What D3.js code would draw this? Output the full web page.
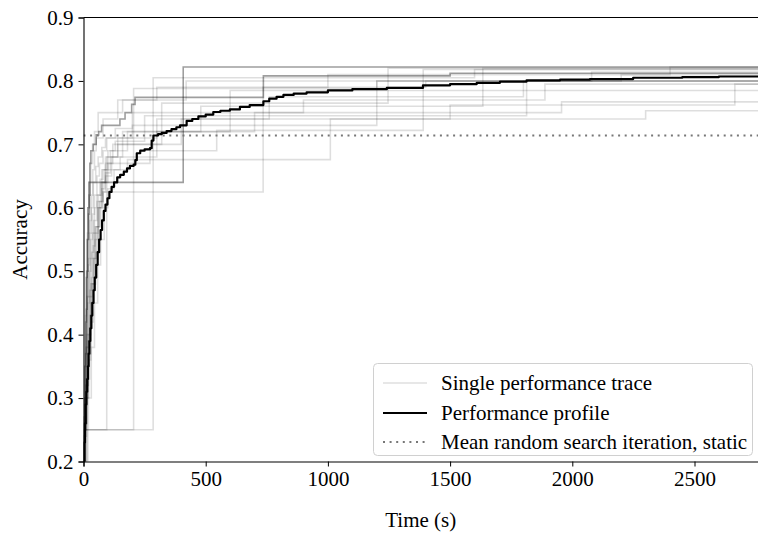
<!DOCTYPE html>
<html>
<head>
<meta charset="utf-8">
<script src="https://cdn.jsdelivr.net/npm/d3@7"></script>
<style>
  html, body { margin: 0; padding: 0; background: #fff; }
  svg { display: block; }
  text { font-family: "Liberation Serif", "DejaVu Serif", serif; fill: #000; }
</style>
</head>
<body>
<svg id="chart" width="758" height="538"></svg>
<script>
// Best-so-far accuracy of individual runs: [time (s), accuracy] step points
const trace01 = [[0,.2],[3,.27],[6,.35],[9,.42],[12,.49],[15,.55],[18,.6],[22,.64],[26,.67],[30,.69],[40,.70],[52,.715],[62,.72],[74,.73],[149,.74],[170,.75],[197,.763],[211,.774],[736,.808],[1500,.812]];
const trace02 = [[0,.2],[3,.24],[6,.3],[9,.37],[12,.44],[15,.5],[18,.55],[21,.59],[24,.62],[27,.64],[408,.822]];
const trace03 = [[0,.2],[8,.25],[95,.68],[140,.71],[300,.74],[760,.775],[1800,.80]];
const trace04 = [[0,.2],[14,.25],[205,.788],[1200,.80],[2200,.81]];
const trace05 = [[0,.2],[18,.25],[285,.805],[1600,.818]];
const trace06 = [[0,.2],[6,.26],[12,.31],[18,.37],[25,.43],[32,.49],[40,.54],[48,.57],[58,.6],[68,.61],[80,.625],[735,.79],[1400,.80]];
const trace07 = [[0,.2],[5,.26],[10,.32],[16,.39],[22,.46],[28,.52],[36,.56],[45,.6],[55,.62],[68,.645],[80,.66],[180,.676],[1010,.74],[1500,.762],[2665,.795]];
const trace08 = [[0,.2],[6,.25],[12,.32],[18,.4],[25,.47],[33,.53],[42,.58],[55,.61],[70,.64],[90,.655],[110,.67],[272,.69],[545,.722],[1390,.818]];
const trace09 = [[0,.2],[4,.26],[8,.33],[12,.4],[16,.46],[20,.51],[25,.56],[32,.6],[40,.64],[50,.665],[60,.68],[75,.695],[90,.71],[130,.725],[200,.73],[1200,.80]];
const trace10 = [[0,.2],[7,.25],[14,.3],[21,.36],[30,.42],[40,.48],[50,.53],[60,.57],[70,.6],[80,.625],[90,.65],[115,.68],[140,.7],[320,.765],[1246,.82]];
const trace11 = [[0,.2],[6,.24],[12,.3],[20,.37],[30,.45],[42,.52],[55,.57],[65,.6],[75,.63],[88,.66],[100,.69],[180,.72],[480,.76],[1634,.82]];
const trace12 = [[0,.2],[8,.26],[15,.33],[25,.41],[35,.48],[47,.55],[60,.6],[75,.64],[90,.67],[110,.69],[130,.705],[250,.745],[1813,.80]];
const trace13 = [[0,.2],[4,.25],[8,.3],[13,.38],[18,.45],[24,.5],[30,.55],[37,.59],[45,.62],[55,.65],[65,.67],[80,.69],[95,.71],[200,.75],[900,.77],[1888,.795]];
const trace14 = [[0,.2],[10,.25],[20,.3],[32,.38],[45,.45],[58,.51],[70,.55],[85,.6],[100,.63],[125,.66],[150,.68],[300,.72],[700,.75],[1956,.767]];
const trace15 = [[0,.2],[3,.27],[5,.35],[8,.43],[12,.5],[16,.56],[20,.6],[25,.64],[30,.67],[37,.7],[45,.72],[60,.75],[160,.77],[420,.80],[2079,.814]];
const trace16 = [[0,.2],[5,.25],[10,.3],[18,.38],[28,.46],[38,.52],[50,.57],[65,.61],[80,.64],[100,.67],[120,.7],[400,.74],[2300,.753]];
const trace17 = [[0,.2],[6,.25],[12,.32],[20,.4],[30,.48],[45,.56],[60,.62],[75,.66],[90,.68],[160,.72],[600,.785]];
const trace18 = [[0,.2],[3,.25],[7,.3],[11,.38],[16,.46],[21,.52],[26,.58],[32,.62],[38,.66],[45,.69],[52,.71],[80,.74],[140,.77],[300,.79],[1000,.81],[2400,.822]];
const traces = [trace01, trace02, trace03, trace04, trace05, trace06, trace07, trace08, trace09,
                trace10, trace11, trace12, trace13, trace14, trace15, trace16, trace17, trace18];

// Aggregated performance profile: [time (s), accuracy]
const profile = [[0,.2],[3,.23],[6,.26],[9,.29],[12,.31],[15,.33],[18,.35],[21,.37],[24,.39],[28,.41],[32,.43],[36,.45],[41,.47],[46,.49],[52,.51],[58,.53],[64,.55],[70,.565],[76,.58],[83,.595],[90,.605],[98,.615],[106,.625],[115,.633],[125,.64],[138,.648],[150,.652],[165,.657],[178,.662],[190,.666],[205,.668],[212,.675],[218,.686],[232,.690],[250,.692],[272,.694],[279,.706],[286,.714],[305,.716],[320,.718],[340,.721],[360,.724],[380,.727],[395,.730],[422,.737],[445,.740],[470,.744],[500,.747],[531,.751],[560,.753],[599,.755],[640,.759],[680,.762],[736,.768],[760,.772],[790,.775],[818,.778],[860,.780],[913,.782],[1000,.785],[1100,.787],[1241,.789],[1389,.793],[1500,.795],[1609,.797],[1704,.799],[1813,.801],[1950,.802],[2072,.803],[2249,.805],[2450,.806],[2600,.807],[2770,.807]];

// Mean accuracy of one random-search iteration (static baseline)
const randomSearchMean = 0.714;

const xTicks = [0, 500, 1000, 1500, 2000, 2500];
const yTicks = [0.2, 0.3, 0.4, 0.5, 0.6, 0.7, 0.8, 0.9];
const xMax = 2770;
const legendLabels = ["Single performance trace", "Performance profile", "Mean random search iteration, static"];

const W = 758, H = 538;
const FONT = "21px";
const svg = d3.select("#chart");
const margin = { left: 83.5, top: 17.5, right: W - 760.5, bottom: H - 461.5 };

const x = d3.scaleLinear().domain([0, xMax]).range([margin.left, W - margin.right]);
const y = d3.scaleLinear().domain([0.2, 0.9]).range([H - margin.bottom, margin.top]);

svg.append("defs").append("clipPath").attr("id", "plotClip")
  .append("rect")
  .attr("x", margin.left).attr("y", margin.top)
  .attr("width", x(xMax) - margin.left).attr("height", y(0.2) - y(0.9));

const plot = svg.append("g").attr("clip-path", "url(#plotClip)");

const stepLine = d3.line()
  .x(d => x(d[0]))
  .y(d => y(d[1]))
  .curve(d3.curveStepAfter);

// each run holds its final value up to the right edge
const extend = pts => pts.concat([[xMax, pts[pts.length - 1][1]]]);

// the two runs shared by several seeds are drawn heavier
const heavyRuns = new Set([0, 1]);

plot.selectAll("path.trace")
  .data(traces)
  .join("path")
  .attr("class", "trace")
  .attr("d", d => stepLine(extend(d)))
  .attr("fill", "none")
  .attr("stroke", "#000")
  .attr("stroke-opacity", (d, i) => heavyRuns.has(i) ? 0.38 : 0.13)
  .attr("stroke-width", 1.6);

plot.append("line")
  .attr("x1", x(0)).attr("x2", x(xMax))
  .attr("y1", y(randomSearchMean)).attr("y2", y(randomSearchMean))
  .attr("stroke", "#777")
  .attr("stroke-width", 2)
  .attr("stroke-dasharray", "2,4.6");

plot.append("path")
  .attr("d", stepLine(profile))
  .attr("fill", "none")
  .attr("stroke", "#000")
  .attr("stroke-width", 2.2)
  .attr("stroke-linejoin", "round");

// axes
const xAxis = d3.axisBottom(x).tickValues(xTicks).tickFormat(d3.format("d")).tickSizeOuter(0).tickSize(5).tickPadding(5);
const yAxis = d3.axisLeft(y).tickValues(yTicks).tickFormat(d3.format(".1f")).tickSizeOuter(0).tickSize(5).tickPadding(5);

const gx = svg.append("g").attr("transform", `translate(0,${y(0.2)})`).call(xAxis);
const gy = svg.append("g").attr("transform", `translate(${x(0)},0)`).call(yAxis);
[gx, gy].forEach(g => {
  g.selectAll("text").style("font-size", FONT).style("font-family", "Liberation Serif");
  g.selectAll("line").attr("stroke", "#000").attr("stroke-width", 1);
  g.select(".domain").attr("stroke", "#000").attr("stroke-width", 1.1);
});

// top spine
svg.append("line")
  .attr("x1", x(0)).attr("x2", x(xMax))
  .attr("y1", y(0.9)).attr("y2", y(0.9))
  .attr("stroke", "#000").attr("stroke-width", 1.1);

svg.append("text")
  .attr("x", (x(0) + W) / 2).attr("y", 527)
  .attr("text-anchor", "middle")
  .style("font-size", FONT)
  .text("Time (s)");

svg.append("text")
  .attr("transform", `translate(27,${(y(0.2) + y(0.9)) / 2}) rotate(-90)`)
  .attr("text-anchor", "middle")
  .style("font-size", FONT)
  .text("Accuracy");

// legend
const lg = svg.append("g");
lg.append("rect")
  .attr("x", 373.5).attr("y", 363.5).attr("width", 379).attr("height", 92)
  .attr("rx", 4).attr("fill", "#fff").attr("fill-opacity", 0.85)
  .attr("stroke", "#d0d0d0").attr("stroke-width", 1);
const rows = [383, 413, 442];
const sample = [
  { stroke: "#000", opacity: 0.13, width: 1.6, dash: null },
  { stroke: "#000", opacity: 1, width: 2.2, dash: null },
  { stroke: "#777", opacity: 1, width: 2, dash: "2,4.6" }
];
legendLabels.forEach((label, i) => {
  lg.append("line")
    .attr("x1", 383).attr("x2", 427)
    .attr("y1", rows[i]).attr("y2", rows[i])
    .attr("stroke", sample[i].stroke)
    .attr("stroke-opacity", sample[i].opacity)
    .attr("stroke-width", sample[i].width)
    .attr("stroke-dasharray", sample[i].dash);
  lg.append("text")
    .attr("x", 441).attr("y", rows[i])
    .attr("dy", "0.33em")
    .style("font-size", FONT)
    .text(label);
});
</script>
</body>
</html>
